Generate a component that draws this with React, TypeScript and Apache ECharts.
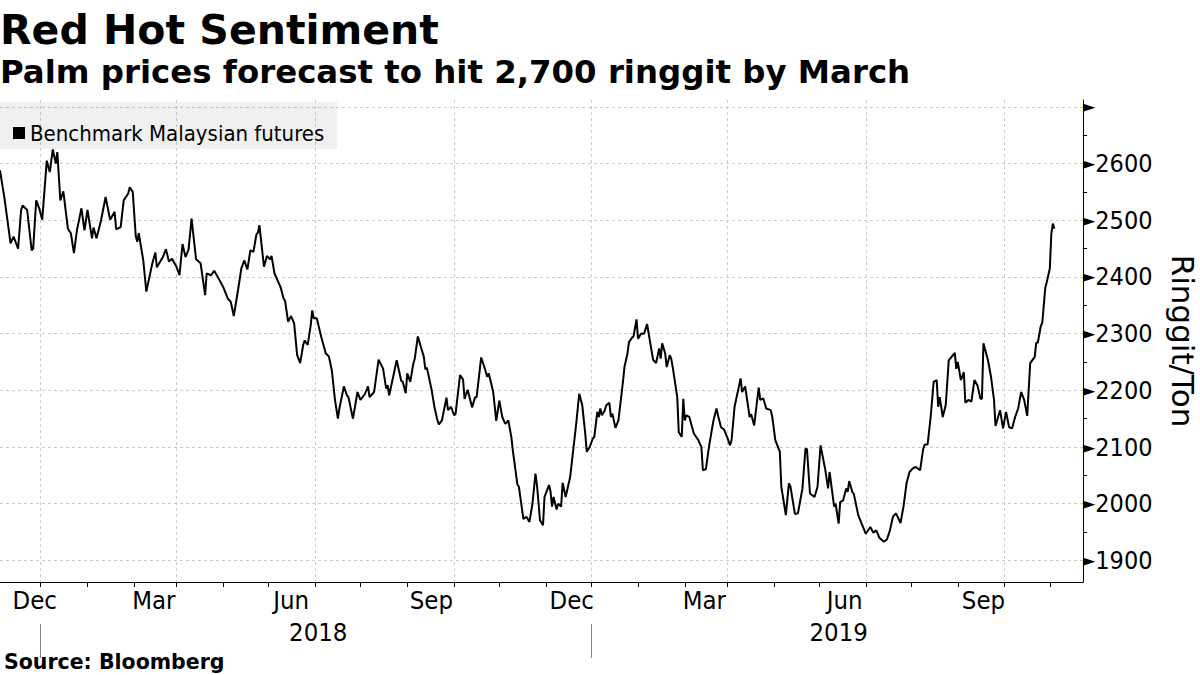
import React, { useEffect, useRef } from 'react';
import * as echarts from 'echarts';

// ---------- DATA ----------
const seriesName = 'Benchmark Malaysian futures';

const dates: string[] = [
  '2017-11-04','2017-11-07','2017-11-11','2017-11-13','2017-11-16','2017-11-18','2017-11-19','2017-11-22','2017-11-25','2017-11-26',
  '2017-11-28','2017-11-30','2017-12-02','2017-12-05','2017-12-07','2017-12-09','2017-12-11','2017-12-12','2017-12-14','2017-12-16',
  '2017-12-19','2017-12-21','2017-12-23','2017-12-25','2017-12-28','2017-12-30','2018-01-01','2018-01-04','2018-01-05','2018-01-07',
  '2018-01-10','2018-01-13','2018-01-16','2018-01-19','2018-01-20','2018-01-23','2018-01-25','2018-01-28','2018-01-29','2018-01-31',
  '2018-02-02','2018-02-03','2018-02-04','2018-02-07','2018-02-09','2018-02-13','2018-02-15','2018-02-16','2018-02-20','2018-02-22',
  '2018-02-24','2018-02-26','2018-03-01','2018-03-03','2018-03-05','2018-03-07','2018-03-09','2018-03-11','2018-03-14','2018-03-17',
  '2018-03-20','2018-03-21','2018-03-24','2018-03-26','2018-03-29','2018-04-01','2018-04-04','2018-04-06','2018-04-08','2018-04-11',
  '2018-04-13','2018-04-15','2018-04-17','2018-04-19','2018-04-21','2018-04-23','2018-04-24','2018-04-25','2018-04-28','2018-04-30',
  '2018-05-02','2018-05-03','2018-05-05','2018-05-09','2018-05-11','2018-05-12','2018-05-14','2018-05-16','2018-05-18','2018-05-20',
  '2018-05-22','2018-05-24','2018-05-25','2018-05-27','2018-05-29','2018-05-30','2018-05-31','2018-06-02','2018-06-05','2018-06-08',
  '2018-06-10','2018-06-12','2018-06-14','2018-06-16','2018-06-17','2018-06-20','2018-06-22','2018-06-23','2018-06-26','2018-06-29',
  '2018-07-01','2018-07-04','2018-07-06','2018-07-07','2018-07-10','2018-07-13','2018-07-16','2018-07-18','2018-07-19','2018-07-20',
  '2018-07-25','2018-07-28','2018-07-29','2018-07-31','2018-08-01','2018-08-03','2018-08-05','2018-08-06','2018-08-08','2018-08-12',
  '2018-08-13','2018-08-14','2018-08-17','2018-08-19','2018-08-21','2018-08-22','2018-08-24','2018-08-27','2018-08-28','2018-08-30',
  '2018-09-01','2018-09-02','2018-09-05','2018-09-07','2018-09-08','2018-09-10','2018-09-13','2018-09-15','2018-09-16','2018-09-19',
  '2018-09-21','2018-09-23','2018-09-24','2018-09-27','2018-09-29','2018-10-01','2018-10-03','2018-10-05','2018-10-07','2018-10-09',
  '2018-10-10','2018-10-13','2018-10-14','2018-10-17','2018-10-19','2018-10-21','2018-10-23','2018-10-25','2018-10-26','2018-10-28',
  '2018-10-30','2018-10-31','2018-11-03','2018-11-04','2018-11-05','2018-11-06','2018-11-08','2018-11-09','2018-11-11','2018-11-12',
  '2018-11-14','2018-11-17','2018-11-19','2018-11-21','2018-11-23','2018-11-25','2018-11-27','2018-11-28','2018-11-30','2018-12-02',
  '2018-12-03','2018-12-05','2018-12-06','2018-12-07','2018-12-08','2018-12-10','2018-12-11','2018-12-13','2018-12-14','2018-12-15',
  '2018-12-17','2018-12-19','2018-12-22','2018-12-23','2018-12-25','2018-12-26','2018-12-28','2018-12-29','2018-12-31','2019-01-01',
  '2019-01-03','2019-01-05','2019-01-07','2019-01-09','2019-01-11','2019-01-13','2019-01-15','2019-01-16','2019-01-17','2019-01-19',
  '2019-01-20','2019-01-22','2019-01-23','2019-01-24','2019-01-27','2019-01-28','2019-01-30','2019-01-31','2019-02-01','2019-02-02',
  '2019-02-04','2019-02-07','2019-02-10','2019-02-12','2019-02-13','2019-02-15','2019-02-17','2019-02-20','2019-02-22','2019-02-23',
  '2019-02-25','2019-02-27','2019-03-01','2019-03-03','2019-03-04','2019-03-06','2019-03-10','2019-03-11','2019-03-13','2019-03-16',
  '2019-03-17','2019-03-19','2019-03-22','2019-03-23','2019-03-25','2019-03-27','2019-03-30','2019-03-31','2019-04-02','2019-04-05',
  '2019-04-06','2019-04-09','2019-04-11','2019-04-12','2019-04-15','2019-04-17','2019-04-20','2019-04-22','2019-04-23','2019-04-25',
  '2019-04-28','2019-04-30','2019-05-02','2019-05-05','2019-05-07','2019-05-08','2019-05-11','2019-05-12','2019-05-14','2019-05-15',
  '2019-05-17','2019-05-19','2019-05-20','2019-05-21','2019-05-23','2019-05-24','2019-05-27','2019-05-30','2019-06-01','2019-06-04',
  '2019-06-06','2019-06-08','2019-06-10','2019-06-13','2019-06-15','2019-06-17','2019-06-19','2019-06-21','2019-06-24','2019-06-26',
  '2019-06-28','2019-06-30','2019-07-02','2019-07-04','2019-07-07','2019-07-09','2019-07-10','2019-07-12','2019-07-14','2019-07-16',
  '2019-07-18','2019-07-19','2019-07-20','2019-07-22','2019-07-24','2019-07-26','2019-07-30','2019-07-31','2019-08-01','2019-08-03',
  '2019-08-05','2019-08-06','2019-08-08','2019-08-10','2019-08-12','2019-08-14','2019-08-16','2019-08-17','2019-08-18','2019-08-21',
  '2019-08-23','2019-08-25','2019-08-26','2019-08-29','2019-08-31','2019-09-02','2019-09-04','2019-09-06','2019-09-08','2019-09-10',
  '2019-09-12','2019-09-14','2019-09-16','2019-09-18','2019-09-21','2019-09-22','2019-09-23','2019-09-25','2019-09-26','2019-09-28',
  '2019-09-29','2019-10-01','2019-10-02','2019-10-03','2019-10-04',
];

const prices: number[] = [
  2588,2538,2459,2471,2450,2518,2526,2518,2447,2450,
  2535,2521,2501,2605,2585,2625,2600,2620,2535,2551,
  2485,2477,2442,2482,2521,2482,2518,2468,2487,2468,
  2500,2541,2501,2515,2484,2488,2535,2547,2558,2550,
  2472,2462,2477,2429,2374,2424,2443,2417,2435,2449,
  2427,2432,2418,2403,2458,2435,2448,2503,2431,2424,
  2368,2406,2403,2411,2397,2382,2362,2356,2331,2380,
  2415,2429,2413,2447,2444,2475,2478,2491,2418,2437,
  2431,2437,2406,2382,2362,2358,2321,2331,2318,2262,
  2248,2280,2288,2280,2315,2341,2327,2327,2294,2265,
  2260,2235,2185,2150,2168,2207,2191,2188,2150,2197,
  2183,2194,2207,2188,2197,2254,2238,2203,2209,2191,
  2253,2217,2215,2195,2230,2215,2247,2256,2295,2259,
  2237,2240,2203,2171,2147,2140,2147,2187,2165,2171,
  2156,2158,2227,2219,2185,2201,2170,2188,2188,2258,
  2242,2224,2230,2197,2146,2182,2153,2141,2147,2118,
  2094,2034,2030,1973,1977,1968,2000,2053,2033,1971,
  1962,2012,2033,2021,1995,2012,1990,2000,1995,2037,
  2012,2047,2094,2141,2194,2174,2124,2092,2100,2115,
  2118,2162,2153,2168,2156,2165,2174,2178,2153,2159,
  2134,2147,2215,2241,2265,2285,2293,2295,2325,2291,
  2300,2300,2317,2285,2254,2248,2274,2256,2283,2265,
  2241,2262,2256,2241,2188,2126,2118,2185,2147,2156,
  2153,2124,2112,2100,2059,2061,2100,2147,2168,2156,
  2135,2131,2118,2103,2112,2171,2221,2197,2207,2153,
  2158,2138,2205,2183,2186,2168,2165,2153,2112,2092,
  2030,1980,2036,2031,1982,1983,2027,2097,2096,2018,
  2012,2030,2103,2062,2027,2056,1995,2000,1965,2003,
  2006,2027,2021,2040,2021,2018,1980,1960,1947,1959,
  1949,1953,1940,1933,1937,1953,1977,1983,1966,1995,
  2036,2056,2062,2065,2059,2096,2104,2105,2153,2215,
  2218,2171,2188,2153,2174,2253,2266,2238,2250,2218,
  2232,2178,2183,2180,2218,2209,2185,2185,2283,2253,
  2224,2183,2137,2165,2133,2162,2135,2133,2153,2168,
  2197,2183,2155,2248,2259,2284,2284,2313,2319,2381,
  2391,2415,2476,2494,2485,
];

const xMin = '2017-11-04';
const xMax = '2019-10-23';
const yMin = 1862;
const yMax = 2712;

const monthTickDates = [
  '2017-12-01','2018-01-01','2018-02-01','2018-03-01','2018-04-01','2018-05-01','2018-06-01','2018-07-01',
  '2018-08-01','2018-09-01','2018-10-01','2018-11-01','2018-12-01','2019-01-01','2019-02-01','2019-03-01',
  '2019-04-01','2019-05-01','2019-06-01','2019-07-01','2019-08-01','2019-09-01','2019-10-01',
];
const quarterDates = ['2017-12-01','2018-03-01','2018-06-01','2018-09-01','2018-12-01','2019-03-01','2019-06-01','2019-09-01'];
const monthLabels = ['Dec','Mar','Jun','Sep','Dec','Mar','Jun','Sep'];
const monthLabelAnchors = ['2017-11-27','2018-02-14','2018-05-16','2018-08-17','2018-11-18','2019-02-14','2019-05-18','2019-08-18'];
const yearLabels = ['2018','2019'];
const yearLabelAnchors = ['2018-06-03','2019-05-14'];
const yearSeparators = ['2017-12-01','2018-12-01'];
const yLabelValues = [1900, 2000, 2100, 2200, 2300, 2400, 2500, 2600, 2700];
const yTickValues = [1900, 1950, 2000, 2050, 2100, 2150, 2200, 2250, 2300, 2350, 2400, 2450, 2500, 2550, 2600, 2650, 2700];

// ---------- HELPERS ----------
const ts = (s: string) => {
  const [y, m, d] = s.split('-').map(Number);
  return Date.UTC(y, m - 1, d);
};
const nearestLabel = (v: number, anchors: string[], labels: string[]) => {
  let best = -1;
  let bestD = Infinity;
  anchors.forEach((a, i) => {
    const d = Math.abs(ts(a) - v);
    if (d < bestD) { bestD = d; best = i; }
  });
  return best >= 0 && bestD < 86400000 * 2 ? labels[best] : '';
};

const condensed = "'DejaVu Sans Condensed', 'DejaVu Sans', sans-serif";
const gridDash = { color: '#cccccc', type: [3, 3] as number[], width: 1 };

export default function App() {
  const ref = useRef<HTMLDivElement>(null);

  useEffect(() => {
    if (!ref.current) return;
    const chart = echarts.init(ref.current, null, { renderer: 'svg' });
    const seriesData = dates.map((d, i) => [ts(d), prices[i]]);
    const xBase = { type: 'value', min: ts(xMin), max: ts(xMax), position: 'bottom', scale: true };

    const option: any = {
      animation: false,
      backgroundColor: '#ffffff',
      grid: { left: 0, right: 117, top: 100, bottom: 93, containLabel: false, outerBoundsMode: 'none' },
      legend: {
        data: [seriesName],
        left: 0,
        top: 102,
        icon: 'rect',
        itemWidth: 12,
        itemHeight: 12,
        padding: [20, 13, 5, 13],
        backgroundColor: 'rgba(0,0,0,0.06)',
        textStyle: { fontSize: 22, fontFamily: condensed, color: '#000' },
        selectedMode: false,
      },
      xAxis: [
        {
          ...xBase,
          axisLine: { show: true, lineStyle: { color: '#000', width: 1 } },
          axisTick: { show: true, customValues: monthTickDates.map(ts), length: 5, lineStyle: { color: '#000' } },
          axisLabel: { show: false },
          splitLine: { show: false },
        },
        {
          ...xBase,
          axisLine: { show: false },
          axisTick: { show: false, customValues: quarterDates.map(ts) },
          axisLabel: {
            show: true,
            customValues: monthLabelAnchors.map(ts),
            formatter: (v: number) => nearestLabel(v, monthLabelAnchors, monthLabels),
            fontSize: 25.5,
            fontFamily: condensed,
            color: '#000',
            margin: 5,
          },
          splitLine: { show: true, lineStyle: gridDash },
        },
        {
          ...xBase,
          offset: 42,
          axisLine: { show: false },
          axisTick: { show: true, customValues: yearSeparators.map(ts), length: 34, lineStyle: { color: '#888' } },
          axisLabel: {
            show: true,
            customValues: yearLabelAnchors.map(ts),
            formatter: (v: number) => nearestLabel(v, yearLabelAnchors, yearLabels),
            fontSize: 25.5,
            fontFamily: condensed,
            color: '#000',
            verticalAlign: 'middle',
            margin: 8,
          },
          splitLine: { show: false },
        },
      ],
      yAxis: [
        {
          type: 'value',
          position: 'right',
          min: yMin,
          max: yMax,
          axisLine: { show: true, lineStyle: { color: '#000', width: 1 } },
          axisTick: { show: true, customValues: yTickValues, length: 4, lineStyle: { color: '#000' } },
          axisLabel: {
            show: true,
            customValues: yLabelValues,
            margin: 0,
            formatter: (v: number) => (v === 2700 ? '{t|►}' : '{t|►}{v|' + v + '}'),
            rich: {
              t: { fontSize: 16, fontFamily: 'DejaVu Sans', color: '#000' },
              v: { fontSize: 25, fontFamily: condensed, color: '#000' },
            },
          },
          splitLine: { show: false },
          name: 'Ringgit/Ton',
          nameLocation: 'middle',
          nameRotate: -90,
          nameGap: 84,
          nameTextStyle: { fontSize: 31, fontFamily: 'DejaVu Sans', color: '#000' },
        },
        {
          type: 'value',
          position: 'right',
          min: yMin,
          max: yMax,
          axisLine: { show: false },
          axisTick: { show: false, customValues: yLabelValues },
          axisLabel: { show: false },
          splitLine: { show: true, lineStyle: gridDash },
        },
      ],
      graphic: [
        {
          type: 'text', x: 0, y: 30,
          style: { text: 'Red Hot Sentiment', fontSize: 41, fontWeight: 'bold', fontFamily: 'DejaVu Sans', fill: '#000', verticalAlign: 'middle' },
        },
        {
          type: 'text', x: 0, y: 72,
          style: { text: 'Palm prices forecast to hit 2,700 ringgit by March', fontSize: 32.4, fontWeight: 'bold', fontFamily: 'DejaVu Sans', fill: '#000', verticalAlign: 'middle' },
        },
        {
          type: 'text', x: 4, y: 662,
          style: { text: 'Source: Bloomberg', fontSize: 20.5, fontWeight: 'bold', fontFamily: 'DejaVu Sans', fill: '#000', verticalAlign: 'middle' },
        },
      ],
      series: [
        {
          name: seriesName,
          type: 'line',
          xAxisIndex: 0,
          yAxisIndex: 0,
          data: seriesData,
          showSymbol: false,
          symbol: 'none',
          lineStyle: { color: '#000', width: 2 },
          itemStyle: { color: '#000' },
          emphasis: { disabled: true },
        },
      ],
    };

    chart.setOption(option);
    return () => chart.dispose();
  }, []);

  return (
    <div
      ref={ref}
      style={{ position: 'fixed', left: 0, top: 0, width: 1200, height: 675, background: '#fff' }}
    />
  );
}
